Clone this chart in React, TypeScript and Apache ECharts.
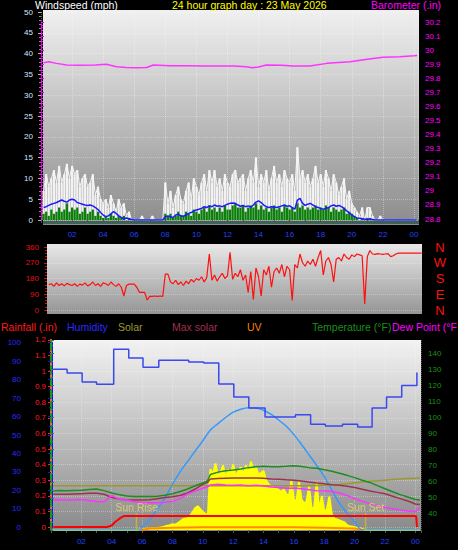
import React, { useEffect, useRef } from "react";
import * as echarts from "echarts";

const FONT = "'Liberation Sans', Arial, sans-serif";

const TITLE = "24 hour graph day : 23 May 2026";
const LEGEND = [
  { text: "Rainfall (.in)", color: "#ff1a1a", x: 1 },
  { text: "Humidity", color: "#2a2aff", x: 67 },
  { text: "Solar", color: "#a09a30", x: 118 },
  { text: "Max solar", color: "#a03050", x: 172 },
  { text: "UV", color: "#ff8000", x: 247 },
  { text: "Temperature (°F)", color: "#189018", x: 312 },
  { text: "Dew Point (°F", color: "#ff00ff", x: 392 },
];

// ---- top panel: 10-minute samples from 00:10 ----
const WIND_START_H = 1 / 6;
const WIND_STEP_H = 1 / 6;
const windGust = [
  7, 11, 8, 10, 12, 9,
  13, 9, 11, 13.5, 10, 13,
  11, 12, 8, 10, 11, 8,
  9, 11, 6, 8, 5, 4,
  5, 3, 6, 4, 2, 5,
  3, 4, 1, 2, 0, 0,
  0, 0, 1, 0, 0, 0,
  1, 0, 0, 0, 0, 9,
  4, 7, 3, 6, 8, 5,
  4, 7, 9, 5, 10, 8,
  6, 9, 11, 7, 12, 9,
  12, 8, 10, 7, 11, 9,
  8, 11, 12, 9, 10, 11,
  7, 10, 12, 9, 15, 8,
  11, 9, 12, 7, 10, 13,
  9, 11, 8, 12, 10, 9,
  11, 7, 17.5, 10, 12, 9,
  11, 8, 10, 13, 9, 11,
  8, 12, 10, 7, 11, 9,
  6, 8, 10, 5, 7, 4,
  3, 2, 1, 3, 0, 3,
  3, 1, 0, 0, 1, 0,
  0, 0, 0, 0, 0, 0,
  0, 0, 0, 0, 0, 0,
  0,
];
const windSpeed = [
  1.5, 2, 1, 2.5, 1.5, 2,
  3, 2, 2.5, 4, 2, 3,
  2.5, 3, 1.5, 2, 3, 1.5,
  2, 2.5, 1, 2, 1, 0.5,
  1, 0.5, 1.5, 1, 0.5, 1,
  0.5, 1, 0, 0.5, 0, 0,
  0, 0, 0, 0, 0, 0,
  0, 0, 0, 0, 0, 1.5,
  1, 1.5, 0.5, 1, 2, 1,
  1, 2, 1.5, 1, 2.5, 2,
  1.5, 2.5, 3, 2, 3.5, 2.5,
  3, 2, 3, 2, 3.5, 2.5,
  2.5, 3.5, 4, 3, 3, 3.5,
  2, 3, 3.5, 3, 4, 2.5,
  3.5, 2.5, 3, 2, 3, 3.5,
  2.5, 3, 2, 3.5, 3, 2.5,
  3, 2, 4, 3, 3.5, 2.5,
  3, 2.5, 3, 3.5, 2.5, 3,
  2.5, 3.5, 3, 2, 3, 2.5,
  2, 2.5, 3, 1.5, 2, 1.5,
  1, 0.5, 0, 0.5, 0, 0.5,
  0.5, 0, 0, 0, 0, 0,
  0, 0, 0, 0, 0, 0,
  0, 0, 0, 0, 0, 0,
  0,
];
const windAvg = [
  3, 3.2, 3.5, 3.8, 4, 4.2,
  4.5, 4.8, 4.5, 4.3, 4.8, 5,
  4.8, 4.2, 4, 3.8, 3.6, 3.5,
  3.6, 3.4, 3, 2.5, 1.8, 1.2,
  0.8, 1, 1.5, 2, 1.6, 1,
  0.6, 0.3, 0.5, 0.3, 0.1, 0,
  0, 0, 0, 0, 0, 0,
  0, 0, 0, 0, 0, 0.8,
  1, 0.8, 0.6, 1.2, 1.4, 1,
  0.9, 1.2, 1.6, 1.8, 2.2, 2.4,
  2.6, 2.8, 3.2, 3, 3.4, 3.2,
  3.6, 3.3, 3.4, 3.2, 3.5, 3.8,
  4, 4.1, 4, 3.6, 3.3, 3.5,
  3.2, 3.4, 3.1, 3.6, 4.3, 4.6,
  4.2, 3.6, 3.2, 3, 3.2, 3.1,
  3, 3.2, 3.4, 3.6, 3.3, 3.4,
  3, 2.6, 4.8, 5.2, 4, 3.5,
  3.8, 4, 3.6, 3.2, 3, 2.8,
  2.6, 2.8, 3, 3.4, 3.6, 3.3,
  3.5, 3.2, 2.8, 2.2, 1.8, 1.2,
  0.8, 0.5, 0.4, 0.3, 0.2, 0.2,
  0.2, 0.1, 0, 0, 0, 0,
  0, 0, 0, 0, 0, 0,
  0, 0, 0, 0, 0, 0,
  0,
];
const baroTimes = [0.15, 0.5, 1.0, 1.65, 2.5, 3.5, 4.2, 4.87, 5.5, 6.2, 6.8, 7.23, 8.3, 9.4, 10.5, 12.4, 13.2, 13.6, 14.0, 14.5, 15.5, 16.2, 17.3, 18.4, 19.9, 21.0, 22.0, 23.1, 24.0, 24.2];
const baroValues = [29.911, 29.918, 29.906, 29.894, 29.892, 29.894, 29.899, 29.882, 29.876, 29.875, 29.877, 29.894, 29.889, 29.889, 29.887, 29.887, 29.882, 29.875, 29.88, 29.894, 29.892, 29.887, 29.887, 29.906, 29.918, 29.935, 29.949, 29.953, 29.96, 29.962];

// ---- middle panel: wind direction, 10-minute samples from 00:30 ----
const DIR_START_H = 0.5;
const DIR_STEP_H = 1 / 6;
const windDir = [
  145, 150, 135, 155,
  140, 150, 138, 152, 145, 140,
  150, 135, 148, 142, 155, 138,
  145, 160, 140, 150, 135, 155,
  150, 140, 160, 145, 135, 150,
  130, 80, 140, 148, 148, 148,
  130, 101, 101, 101, 57, 78,
  78, 80, 78, 80, 78, 205,
  205, 160, 150, 170, 145, 160,
  140, 165, 150, 175, 160, 180,
  170, 190, 160, 185, 320, 170,
  200, 165, 190, 210, 180, 195,
  330, 175, 210, 190, 230, 170,
  200, 100, 220, 60, 240, 190,
  80, 230, 200, 250, 130, 220,
  240, 210, 260, 190, 250, 230,
  55, 260, 240, 320, 270, 250,
  280, 260, 290, 250, 300, 340,
  200, 280, 300, 260, 160, 290,
  300, 280, 320, 300, 290, 315,
  305, 320, 315, 310, 35, 305,
  340, 320, 318, 322, 320, 318,
  320, 322, 305, 310, 320, 325,
  325, 325, 325, 325, 325, 325,
  325, 325, 325,
];
const DIR_LETTERS: Record<number, string> = { 0: "N", 90: "E", 180: "S", 270: "W", 360: "N" };

// ---- bottom panel ----
const humidityTimes = [0.15, 1.06, 2.05, 3.0, 4.13, 5.12, 6.06, 7.1, 9.07, 10.06, 11.05, 12.04, 13.03, 14.1, 16.1, 17.1, 18.07, 19.2, 20.2, 21.15, 22.1, 23.1, 24.1];
const humidityValues = [85.6, 83.6, 78.7, 77.5, 96.4, 91.7, 86.7, 90.5, 89.5, 89, 77.6, 70.6, 64.6, 59.8, 61, 55.8, 54.9, 55.8, 54.3, 64.6, 70.6, 76.8, 83.8];

const rainTimes = [0.15, 3.7, 3.85, 4.0, 4.2, 4.4, 4.6, 4.8, 24.05, 24.1];
const rainValues = [0, 0, 0.005, 0.01, 0.03, 0.045, 0.06, 0.07, 0.07, 0];

const climateTimes = [0.15, 0.5, 1, 1.5, 2, 2.5, 3, 3.5, 4, 4.5, 5, 5.5, 6, 6.5, 7, 7.5, 8, 8.5, 9, 9.5, 10, 10.3, 10.5, 11, 11.5, 12, 12.5, 13, 13.5, 14, 14.5, 15, 15.5, 16, 16.5, 17, 17.5, 18, 18.5, 19, 19.5, 20, 20.5, 21, 21.5, 22, 22.5, 23, 23.5, 24, 24.3];
const temperature = [54.3, 54.5, 54.4, 54.6, 54.8, 55.2, 55.5, 54.5, 53, 52, 51.2, 50.9, 50.8, 50.8, 51, 51.6, 52.5, 54, 55.5, 57.5, 59.2, 60.5, 64.5, 66, 66.8, 67.3, 68, 68.8, 69.4, 69.6, 69.4, 69.4, 69.6, 70, 69.5, 68.8, 68.4, 67.5, 66.6, 65.3, 64, 62.6, 61, 59.6, 57.6, 55.7, 53.8, 52, 50.5, 49, 48.6];
const maroonLine = [52.2, 52.3, 52.2, 52.4, 52.6, 52.8, 52.9, 52.2, 50.2, 49.2, 48.8, 48.7, 48.7, 48.8, 49.5, 50.2, 50.7, 51.5, 53, 55.5, 58.5, 59.6, 61.8, 62, 62.2, 62.3, 62.4, 62.3, 62.4, 62.2, 61.8, 61.5, 61.2, 61, 60.5, 59.8, 59.2, 58.8, 58.2, 57.8, 57.2, 56.4, 55.3, 54.3, 53.4, 52.5, 51, 49.5, 48, 46.2, 45.8];
const dewPoint = [48.7, 48.8, 48.6, 48.7, 48.9, 48.4, 47.8, 47.6, 51.5, 49, 48.6, 47.5, 47, 47, 47, 47.2, 47.8, 49.5, 52.5, 54.2, 56, 56.8, 58, 58.4, 58, 57.8, 58, 57.6, 57.8, 57.4, 56.8, 56.4, 56, 56.2, 55.6, 55, 54.4, 54.3, 54, 53, 51.5, 49.5, 47.8, 46.4, 45.4, 44, 43.2, 42.4, 41.8, 41.4, 44];
const oliveLine = [57.6, 57.6, 57.6, 57.6, 57.6, 57.6, 57.6, 57.6, 57.6, 57.6, 57.6, 57.6, 57.6, 57.6, 57.6, 57.6, 57.6, 57.6, 57.6, 57.6, 57.6, 57.6, 57.6, 57.6, 57.6, 57.6, 57.6, 57.6, 57.6, 57.6, 57.6, 57.6, 57.6, 57.6, 57.6, 57.6, 57.7, 57.8, 58, 58.3, 58.8, 59.3, 59.8, 60.3, 60.7, 61, 61.4, 61.8, 62, 62.2, 62.3];

const SOLAR_START_H = 5.5;
const SOLAR_STEP_H = 1 / 6;
const solar = [
  0, 0, 2,
  4, 5, 6, 7, 8, 9,
  10, 12, 14, 18, 22, 25,
  30, 28, 35, 45, 55, 60,
  62, 75, 95, 115, 125, 110,
  95, 85, 80, 320, 290, 350,
  280, 300, 340, 270, 320, 290,
  345, 280, 310, 330, 290, 340,
  300, 360, 310, 330, 290, 300,
  310, 260, 240, 230, 225, 220,
  210, 200, 215, 190, 175, 260,
  160, 150, 255, 160, 140, 150,
  230, 110, 120, 250, 100, 180,
  95, 110, 175, 80, 60, 55,
  50, 45, 40, 25, 20, 18,
  15, 12, 10, 5, 0, 0,
  0,
];
const maxSolarTimes = [0.15, 5.9, 6, 6.5, 7, 7.5, 8, 8.5, 9, 9.5, 10, 10.5, 11, 11.5, 12, 12.5, 13, 13.5, 14, 14.5, 15, 15.5, 16, 16.5, 17, 17.5, 18, 18.5, 19, 19.5, 20, 20.5, 24.3];
const maxSolar = [0, 0, 15, 55, 110, 168, 240, 306, 361, 416, 470, 526, 560, 592, 620, 636, 644, 642, 630, 608, 579, 546, 502, 450, 395, 340, 281, 210, 140, 88, 42, 0, 0];
const uvTimes = [5.9, 6.5, 8, 10, 12, 14, 16, 18, 20, 20.6];
const uvValues = [0, 8, 12, 14, 15, 15, 14, 12, 8, 0];

const SUNRISE_H = 5.63;
const SUNSET_H = 20.72;
const SUN_MARK_HEIGHT = 90;

const seq = (start: number, step: number, vals: number[]) => vals.map((v, i) => [start + i * step, v]);
const pairs = (ts: number[], vs: number[]) => ts.map((t, i) => [t, vs[i]]);

const hourLabel = (v: number) => {
  const r = Math.round(v);
  if (Math.abs(v - r) > 1e-6 || r <= 0) return "";
  return String(r % 24).padStart(2, "0");
};

const grad = (top: string, bottom: string) =>
  new echarts.graphic.LinearGradient(0, 0, 0, 1, [
    { offset: 0, color: top },
    { offset: 1, color: bottom },
  ]);

const txt = (x: number, y: number, text: string, color: string, size = 10.5) => ({
  type: "text",
  x,
  y,
  z: 50,
  style: {
    text,
    fill: color,
    font: `${size}px ${FONT}`,
    textAlign: "left",
    textVerticalAlign: "middle",
    align: "left",
    verticalAlign: "middle",
  },
});

const hiddenX = (gridIndex: number, min: number, max: number) => ({
  gridIndex,
  type: "value",
  min,
  max,
  show: false,
});

const sunSeries = (t: number, name: string) => ({
  name,
  type: "line",
  xAxisIndex: 6,
  yAxisIndex: 7,
  symbol: "circle",
  symbolSize: 0.1,
  showSymbol: true,
  lineStyle: { color: "#c0b048", width: 1.5 },
  itemStyle: { color: "#c0b048" },
  label: { show: false },
  data: [
    [t, 0],
    {
      value: [t, SUN_MARK_HEIGHT],
      label: {
        show: true,
        position: "top",
        distance: 0,
        formatter: name,
        color: "#d8cc6a",
        fontSize: 10.5,
        fontFamily: FONT,
      },
    },
  ],
});

export default function App() {
  const ref = useRef<HTMLDivElement>(null);
  useEffect(() => {
    document.body.style.margin = "0";
    document.body.style.background = "#000";
    if (!ref.current) return;
    const chart = echarts.init(ref.current, undefined, { renderer: "svg" });
    const tickGray = { color: "#555" };
    const option: any = {
      animation: false,
      backgroundColor: "#000",
      textStyle: { fontFamily: FONT },
      grid: [
        { left: 41, top: 12, width: 377, height: 208 },
        { left: 41, top: 22, width: 377, height: 197 },
        { left: 47, top: 247, width: 375, height: 63 },
        { left: 51, top: 342.7, width: 370, height: 184.6 },
        { left: 51, top: 339.8, width: 370, height: 187.2 },
        { left: 51, top: 340, width: 370, height: 190 },
        { left: 51, top: 340, width: 370, height: 190 },
      ],
      xAxis: [
        {
          gridIndex: 0,
          type: "value",
          min: 0,
          max: 24.26,
          interval: 2,
          offset: 5,
          axisLine: { show: false },
          axisTick: { show: true, length: 3, lineStyle: tickGray },
          minorTick: { show: true, splitNumber: 2, length: 3, lineStyle: tickGray },
          axisLabel: { color: "#2040ff", fontSize: 8, margin: 5, formatter: hourLabel },
          splitLine: { show: true, lineStyle: { color: "rgba(255,255,255,0.35)", type: "dotted" } },
        },
        hiddenX(1, 0, 24.26),
        hiddenX(2, 0.386, 24.52),
        hiddenX(3, 0, 24.37),
        hiddenX(4, 0, 24.37),
        hiddenX(5, 0, 24.37),
        {
          gridIndex: 6,
          type: "value",
          min: 0,
          max: 24.37,
          interval: 2,
          offset: 1,
          axisLine: { show: false },
          axisTick: { show: true, length: 3, lineStyle: tickGray },
          minorTick: { show: true, splitNumber: 2, length: 3, lineStyle: tickGray },
          axisLabel: { color: "#2040ff", fontSize: 8, margin: 6, formatter: hourLabel },
          splitLine: { show: true, lineStyle: { color: "rgba(255,255,255,0.3)", type: "dotted" } },
        },
      ],
      yAxis: [
        {
          gridIndex: 0,
          type: "value",
          min: 0,
          max: 50,
          interval: 5,
          position: "left",
          axisLine: { show: false },
          axisTick: { show: true, length: 3, lineStyle: { color: "#b8b8b8" } },
          minorTick: { show: true, splitNumber: 5, length: 2, lineStyle: { color: "#8a8a8a" } },
          axisLabel: { color: "#d6e6ff", fontSize: 8, margin: 8 },
          splitLine: { show: true, lineStyle: { color: "rgba(255,255,255,0.3)", type: "dotted" } },
        },
        {
          gridIndex: 1,
          type: "value",
          min: 28.8,
          max: 30.2,
          interval: 0.1,
          position: "right",
          offset: 2,
          axisLine: { show: true, lineStyle: { color: "#ff00ff", type: "dotted" } },
          axisTick: { show: true, length: 3, lineStyle: { color: "#ff00ff" } },
          minorTick: { show: true, splitNumber: 5, length: 2, lineStyle: { color: "#ff00ff" } },
          axisLabel: { color: "#ff00ff", fontSize: 8, margin: 5, formatter: (v: number) => String(Math.round(v * 10) / 10) },
          splitLine: { show: false },
        },
        {
          gridIndex: 2,
          type: "value",
          min: 0,
          max: 360,
          interval: 90,
          position: "left",
          axisLine: { show: false },
          axisTick: { show: true, length: 3, lineStyle: { color: "#cc1010" } },
          minorTick: { show: true, splitNumber: 5, length: 2, lineStyle: { color: "#cc1010" } },
          axisLabel: { color: "#e01010", fontSize: 8, margin: 8 },
          splitLine: { show: true, lineStyle: { color: "rgba(255,255,255,0.3)", type: "dotted" } },
        },
        {
          gridIndex: 2,
          type: "value",
          min: 0,
          max: 360,
          interval: 90,
          position: "right",
          axisLine: { show: false },
          axisTick: { show: false },
          splitLine: { show: false },
          axisLabel: {
            color: "#ff1010",
            fontSize: 13,
            margin: 18,
            align: "center",
            formatter: (v: number) => DIR_LETTERS[Math.round(v)] ?? "",
          },
        },
        {
          gridIndex: 3,
          type: "value",
          min: 0,
          max: 100,
          interval: 10,
          position: "left",
          offset: 21,
          axisLine: { show: true, lineStyle: { color: "#1414ff", width: 3 } },
          axisTick: { show: true, length: 3, lineStyle: { color: "#1414ff" } },
          minorTick: { show: true, splitNumber: 2, length: 2, lineStyle: { color: "#1414ff" } },
          axisLabel: { color: "#2a2aff", fontSize: 8, margin: 9 },
          splitLine: { show: false },
        },
        {
          gridIndex: 4,
          type: "value",
          min: 0,
          max: 1.2,
          interval: 0.1,
          position: "left",
          axisLine: { show: true, lineStyle: { color: "#ff5a5a", width: 2, type: "dashed" } },
          axisTick: { show: true, length: 3, lineStyle: { color: "#ff2020" } },
          axisLabel: { color: "#ff1a1a", fontSize: 8, margin: 5, formatter: (v: number) => String(Math.round(v * 10) / 10) },
          splitLine: { show: true, lineStyle: { color: "rgba(255,255,255,0.3)", type: "dotted" } },
        },
        {
          gridIndex: 5,
          type: "value",
          min: 30,
          max: 148.2,
          interval: 10,
          position: "right",
          axisLine: { show: true, lineStyle: { color: "#1a9a1a", width: 2, type: "dashed" } },
          axisTick: { show: true, length: 3, lineStyle: { color: "#1a9a1a" } },
          minorTick: { show: true, splitNumber: 2, length: 2, lineStyle: { color: "#1a9a1a" } },
          axisLabel: {
            color: "#189018",
            fontSize: 8,
            margin: 7,
            formatter: (v: number) => {
              const r = Math.round(v);
              return Math.abs(v - r) < 1e-6 && r >= 40 && r <= 140 ? String(r) : "";
            },
          },
          splitLine: { show: false },
        },
        { gridIndex: 6, type: "value", min: 0, max: 1000, show: false },
      ],
      series: [
        {
          name: "Gust",
          type: "bar",
          xAxisIndex: 0,
          yAxisIndex: 0,
          barWidth: 2.2,
          barGap: "-100%",
          itemStyle: { color: "#f2f2f2" },
          data: seq(WIND_START_H, WIND_STEP_H, windGust),
        },
        {
          name: "Gust trace",
          type: "line",
          xAxisIndex: 0,
          yAxisIndex: 0,
          showSymbol: false,
          lineStyle: { color: "#f6f6f6", width: 1 },
          data: seq(WIND_START_H, WIND_STEP_H, windGust),
        },
        {
          name: "Wind speed",
          type: "bar",
          xAxisIndex: 0,
          yAxisIndex: 0,
          barWidth: 2.2,
          barGap: "-100%",
          itemStyle: { color: "#0a800a" },
          data: seq(WIND_START_H, WIND_STEP_H, windSpeed),
        },
        {
          name: "Average speed",
          type: "line",
          xAxisIndex: 0,
          yAxisIndex: 0,
          showSymbol: false,
          lineStyle: { color: "#1a1aff", width: 1.5 },
          data: seq(WIND_START_H, WIND_STEP_H, windAvg),
        },
        {
          name: "Barometer",
          type: "line",
          xAxisIndex: 1,
          yAxisIndex: 1,
          showSymbol: false,
          lineStyle: { color: "#ff33ff", width: 1.5 },
          data: pairs(baroTimes, baroValues),
        },
        {
          name: "Wind direction",
          type: "line",
          xAxisIndex: 2,
          yAxisIndex: 2,
          showSymbol: false,
          lineStyle: { color: "#ff1010", width: 1.2 },
          data: seq(DIR_START_H, DIR_STEP_H, windDir),
        },
        {
          name: "Solar radiation",
          type: "line",
          xAxisIndex: 6,
          yAxisIndex: 7,
          showSymbol: false,
          lineStyle: { color: "#ffff00", width: 2 },
          areaStyle: { color: "#ffff00", opacity: 1 },
          data: [[0.15, 0], ...seq(SOLAR_START_H, SOLAR_STEP_H, solar), [24.3, 0]],
        },
        {
          name: "UV",
          type: "line",
          xAxisIndex: 6,
          yAxisIndex: 7,
          showSymbol: false,
          lineStyle: { color: "#ff8c00", width: 2 },
          data: pairs(uvTimes, uvValues),
        },
        {
          name: "Max solar curve",
          type: "line",
          xAxisIndex: 6,
          yAxisIndex: 7,
          showSymbol: false,
          smooth: 0.3,
          lineStyle: { color: "#3399ff", width: 1.5 },
          data: pairs(maxSolarTimes, maxSolar),
        },
        sunSeries(SUNRISE_H, "Sun Rise"),
        sunSeries(SUNSET_H, "Sun Set"),
        {
          name: "Solar",
          type: "line",
          xAxisIndex: 5,
          yAxisIndex: 6,
          showSymbol: false,
          lineStyle: { color: "#9c9830", width: 1.5 },
          data: pairs(climateTimes, oliveLine),
        },
        {
          name: "Max solar",
          type: "line",
          xAxisIndex: 5,
          yAxisIndex: 6,
          showSymbol: false,
          lineStyle: { color: "#a03050", width: 1.5 },
          data: pairs(climateTimes, maroonLine),
        },
        {
          name: "Dew Point",
          type: "line",
          xAxisIndex: 5,
          yAxisIndex: 6,
          showSymbol: false,
          lineStyle: { color: "#ff33ff", width: 1.5 },
          data: pairs(climateTimes, dewPoint),
        },
        {
          name: "Temperature",
          type: "line",
          xAxisIndex: 5,
          yAxisIndex: 6,
          showSymbol: false,
          lineStyle: { color: "#1e8c1e", width: 1.5 },
          data: pairs(climateTimes, temperature),
        },
        {
          name: "Humidity",
          type: "line",
          xAxisIndex: 3,
          yAxisIndex: 4,
          showSymbol: false,
          step: "end",
          lineStyle: { color: "#3a48ee", width: 1.5 },
          data: pairs(humidityTimes, humidityValues),
        },
        {
          name: "Rainfall",
          type: "line",
          xAxisIndex: 4,
          yAxisIndex: 5,
          showSymbol: false,
          lineStyle: { color: "#ff0000", width: 2 },
          data: pairs(rainTimes, rainValues),
        },
      ],
      graphic: {
        elements: [
          { type: "rect", z: -10, shape: { x: 43, y: 10, width: 376, height: 215 }, style: { fill: grad("#f0f0f0", "#8c8c8c") } },
          { type: "rect", z: -9, shape: { x: 43, y: 221, width: 376, height: 3 }, style: { fill: "#3d6356" } },
          { type: "rect", z: -10, shape: { x: 47, y: 244, width: 375, height: 70 }, style: { fill: grad("#e8e8e8", "#959595") } },
          { type: "rect", z: -10, shape: { x: 51, y: 340, width: 370, height: 191 }, style: { fill: grad("#f2f2f2", "#8a8a8a") } },
          txt(35, 5, "Windspeed (mph)", "#ffffff"),
          txt(172, 5, TITLE, "#ffff00"),
          txt(371, 5, "Barometer (.in)", "#ff00ff"),
          ...LEGEND.map((l) => txt(l.x, 326.5, l.text, l.color)),
        ],
      },
    };
    chart.setOption(option);
    return () => chart.dispose();
  }, []);
  return <div ref={ref} style={{ width: 458, height: 550, background: "#000" }} />;
}
